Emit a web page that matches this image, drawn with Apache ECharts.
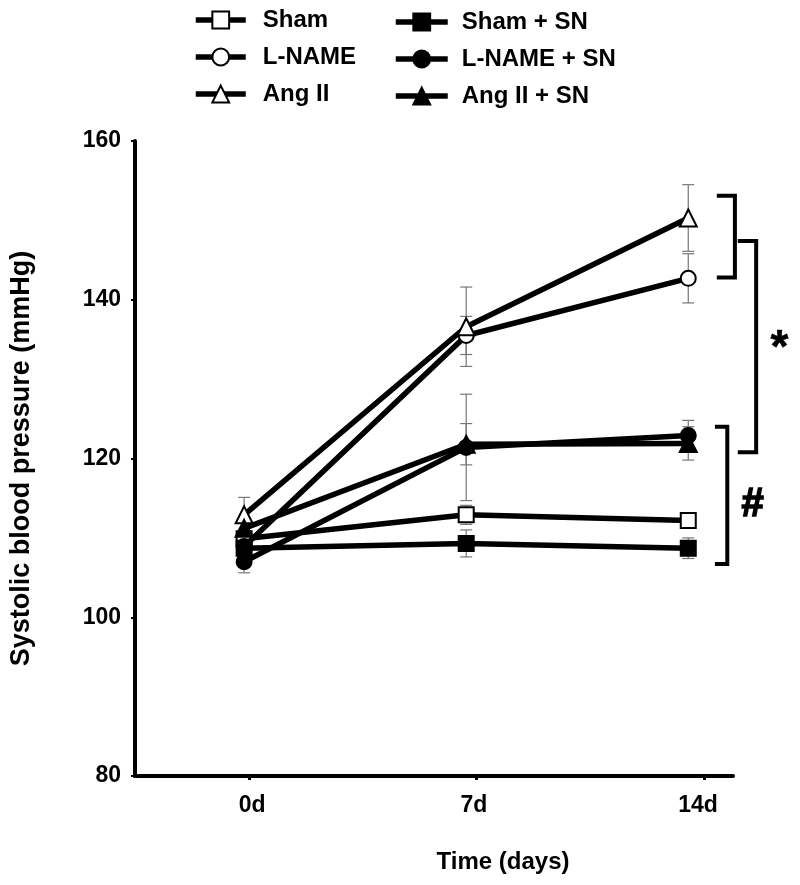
<!DOCTYPE html>
<html>
<head>
<meta charset="utf-8">
<script src="https://cdn.jsdelivr.net/npm/echarts@6/dist/echarts.min.js"></script>
<style>html,body{margin:0;padding:0;background:#fff}#c{width:800px;height:885px}</style>
</head>
<body>
<div id="c"></div>
<script>
// ---- data ----
var days = [0, 7, 14];
var tickLabels = ['0d', '7d', '14d'];
var tickPos = [0.16, 7.31, 14.5];
var labelPos = [0.25, 7.24, 14.31];
var yTicks = [80, 100, 120, 140, 160];

var sham = [109.9, 112.9, 112.2];
var shamErr = [1.0, 1.2, 0.9];
var shamSN = [108.7, 109.3, 108.7];
var shamSNErr = [1.0, 1.7, 1.3];
var lname = [108.9, 135.5, 142.7];
var lnameErr = [1.5, 2.4, 3.1];
var lnameSN = [107.0, 121.4, 122.9];
var lnameSNErr = [1.4, 6.7, 1.9];
var angII = [112.9, 136.6, 150.3];
var angIIErr = [2.2, 5.0, 4.2];
var angIISN = [111.2, 121.8, 121.9];
var angIISNErr = [1.0, 2.6, 2.1];

// brackets: [xLeft, xRight, yTop, yBottom] in data units
var brackets = [[14.9, 15.47, 153.1, 142.8], [15.56, 16.14, 147.4, 120.8], [14.84, 15.23, 124.0, 106.7]];
var marks = [['*', 16.875, 133.8], ['#', 16.03, 114.1]];

var FONT = 'Liberation Sans, Arial, sans-serif';

function pts(arr) { return days.map(function (d, i) { return [d, arr[i]]; }); }

var groups = [
  { name: 'Sham', v: sham, e: shamErr, sym: 'rect', fill: '#fff' },
  { name: 'L-NAME', v: lname, e: lnameErr, sym: 'circle', fill: '#fff' },
  { name: 'Ang II', v: angII, e: angIIErr, sym: 'triangle', fill: '#fff' },
  { name: 'Sham + SN', v: shamSN, e: shamSNErr, sym: 'rect', fill: '#000' },
  { name: 'L-NAME + SN', v: lnameSN, e: lnameSNErr, sym: 'circle', fill: '#000' },
  { name: 'Ang II + SN', v: angIISN, e: angIISNErr, sym: 'triangle', fill: '#000' }
];

var errData = [];
groups.forEach(function (g) { days.forEach(function (d, i) { errData.push([d, g.v[i], g.e[i]]); }); });

var series = [];
series.push({
  type: 'custom', name: 'err', z: 1, silent: true, clip: false,
  data: errData,
  renderItem: function (params, api) {
    var x = api.value(0), m = api.value(1), s = api.value(2);
    var top = api.coord([x, m + s]), bot = api.coord([x, m - s]);
    var w = 6;
    var st = { stroke: '#777', lineWidth: 1.2 };
    return { type: 'group', children: [
      { type: 'line', shape: { x1: top[0], y1: top[1], x2: bot[0], y2: bot[1] }, style: st },
      { type: 'line', shape: { x1: top[0] - w, y1: top[1], x2: top[0] + w, y2: top[1] }, style: st },
      { type: 'line', shape: { x1: bot[0] - w, y1: bot[1], x2: bot[0] + w, y2: bot[1] }, style: st }
    ] };
  }
});
groups.forEach(function (g, k) {
  series.push({
    type: 'line', name: g.name, data: pts(g.v), z: 3 + k,
    symbol: g.sym, symbolSize: g.sym === 'triangle' ? 17 : 15,
    lineStyle: { color: '#000', width: 5.5 },
    itemStyle: { color: g.fill, borderColor: '#000', borderWidth: 2 },
    emphasis: { disabled: true }, animation: false
  });
});
series.push({
  type: 'custom', name: 'brackets', silent: true, clip: false, z: 10,
  data: brackets,
  renderItem: function (params, api) {
    var a = api.coord([api.value(0), api.value(2)]);
    var b = api.coord([api.value(1), api.value(2)]);
    var c = api.coord([api.value(1), api.value(3)]);
    var d = api.coord([api.value(0), api.value(3)]);
    return { type: 'polyline', shape: { points: [a, b, c, d] }, style: { stroke: '#000', lineWidth: 4, fill: null } };
  }
});
series.push({
  type: 'custom', name: 'marks', silent: true, clip: false, z: 10,
  data: marks.map(function (m) { return [m[1], m[2], m[0]]; }),
  renderItem: function (params, api) {
    var p = api.coord([api.value(0), api.value(1)]);
    var t = marks[params.dataIndex][0];
    return { type: 'text', x: p[0], y: p[1], style: { text: t, fill: '#000', stroke: '#000', lineWidth: t === '#' ? 1.5 : 0.5, font: 'bold ' + (t === '*' ? 46 : 40) + 'px ' + FONT, align: 'center', verticalAlign: 'middle' } };
  }
});

var legendBase = {
  orient: 'vertical', padding: 0, itemWidth: 50, itemHeight: 21, itemGap: 13,
  lineStyle: { width: 5.5, color: '#000' },
  textStyle: { fontFamily: FONT, fontWeight: 'bold', fontSize: 24, color: '#000' },
  selectedMode: false
};
var leg1 = Object.assign({}, legendBase, { left: 193, top: 8, data: ['Sham', 'L-NAME', 'Ang II'] });
leg1.textStyle = Object.assign({}, legendBase.textStyle, { padding: [0, 0, 0, 12] });
var leg2 = Object.assign({}, legendBase, { left: 393, top: 10, itemWidth: 52, data: ['Sham + SN', 'L-NAME + SN', 'Ang II + SN'] });
leg2.textStyle = Object.assign({}, legendBase.textStyle, { padding: [0, 0, 0, 9] });

var option = {
  animation: false,
  backgroundColor: '#fff',
  legend: [leg1, leg2],
  grid: { left: 130, right: 67, top: 141, bottom: 109, containLabel: false },
  xAxis: {
    type: 'value', min: -3.44, max: 15.41,
    name: 'Time (days)', nameLocation: 'middle', nameGap: 74,
    nameTextStyle: { fontFamily: FONT, fontWeight: 'bold', fontSize: 24, color: '#000', padding: [0, 0, 0, 138] },
    axisLine: { onZero: false, lineStyle: { color: '#000', width: 4 } },
    axisTick: { show: true, customValues: tickPos, length: 4, lineStyle: { color: '#000', width: 3 } },
    axisLabel: {
      customValues: labelPos, margin: 18,
      formatter: function (v) { var i = labelPos.indexOf(v); return i >= 0 ? tickLabels[i] : ''; },
      fontFamily: FONT, fontWeight: 'bold', fontSize: 23, color: '#000'
    },
    splitLine: { show: false }
  },
  yAxis: {
    type: 'value', min: yTicks[0], max: yTicks[yTicks.length - 1], interval: 20,
    name: 'Systolic blood pressure (mmHg)', nameLocation: 'middle', nameGap: 100,
    nameTextStyle: { fontFamily: FONT, fontWeight: 'bold', fontSize: 27, color: '#000' },
    axisLine: { show: true, onZero: false, lineStyle: { color: '#000', width: 4 } },
    axisTick: { show: true, length: 4, lineStyle: { color: '#000', width: 2 } },
    axisLabel: { margin: 14, fontFamily: FONT, fontWeight: 'bold', fontSize: 23, color: '#000' },
    splitLine: { show: false }
  },
  series: series
};
var chart = echarts.init(document.getElementById('c'), null, { renderer: 'canvas' });
chart.setOption(option);
</script>
</body>
</html>
